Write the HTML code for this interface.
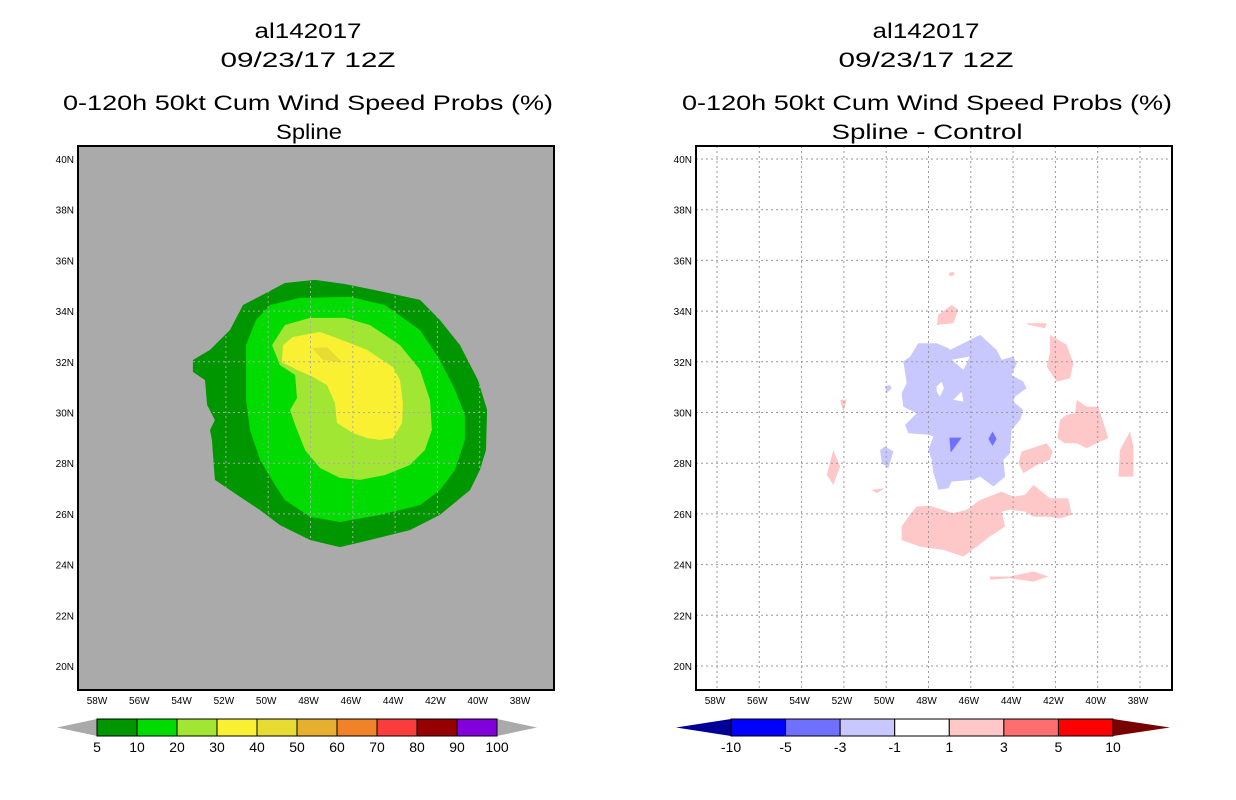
<!DOCTYPE html>
<html><head><meta charset="utf-8"><style>
html,body{margin:0;padding:0;background:#fff;width:1236px;height:800px;overflow:hidden}
svg text{font-family:"Liberation Sans",sans-serif}
</style></head><body>
<svg id="s" width="1236" height="800" xmlns="http://www.w3.org/2000/svg">
<g font-size="21" text-anchor="middle" lengthAdjust="spacingAndGlyphs">
<text x="308" y="38" textLength="107" lengthAdjust="spacingAndGlyphs">al142017</text><text x="308" y="67" textLength="175" lengthAdjust="spacingAndGlyphs">09/23/17 12Z</text>
<text x="308" y="110" textLength="490" lengthAdjust="spacingAndGlyphs">0-120h 50kt Cum Wind Speed Probs (%)</text><text x="309" y="139" textLength="66" lengthAdjust="spacingAndGlyphs">Spline</text></g>
<g font-size="21" text-anchor="middle">
<text x="926" y="38" textLength="107" lengthAdjust="spacingAndGlyphs">al142017</text><text x="926" y="67" textLength="175" lengthAdjust="spacingAndGlyphs">09/23/17 12Z</text>
<text x="927" y="110" textLength="490" lengthAdjust="spacingAndGlyphs">0-120h 50kt Cum Wind Speed Probs (%)</text><text x="927" y="139" textLength="191" lengthAdjust="spacingAndGlyphs">Spline - Control</text></g>
</svg>
<script>
const lonTicks=[58,56,54,52,50,48,46,44,42,40,38];
const latTicks=[40,38,36,34,32,30,28,26,24,22,20];
const leftLevels=["5","10","20","30","40","50","60","70","80","90","100"];
const leftColors=["#009600","#00dc00","#a0e632","#faf032","#e6dc32","#e6af2d","#f08228","#fa3c3c","#960000","#8200dc"];
const rightLevels=["-10","-5","-3","-1","1","3","5","10"];
const rightColors=["#0000ff","#7070ff","#c8c8ff","#ffffff","#ffc8c8","#ff6e6e","#ff0000"];
const c5=[[53.56,32.07],[52.75,32.47],[51.81,33.25],[51.19,34.24],[50.29,34.63],[49.21,35.11],[47.79,35.23],[46.37,35.07],[44.95,34.83],[42.82,34.44],[41.88,33.65],[40.93,32.66],[40.08,31.28],[39.65,30.1],[39.7,28.52],[39.99,27.73],[40.46,26.94],[41.88,25.96],[43.3,25.36],[45.19,24.97],[46.61,24.69],[48.02,24.97],[49.44,25.56],[50.39,26.15],[51.33,26.67],[52.52,27.34],[52.66,28.92],[52.75,29.31],[52.52,29.7],[52.89,30.3],[52.99,31.28],[53.56,31.6]];
const c10=[[51.05,32.66],[50.58,33.65],[49.91,34.24],[48.5,34.52],[46.13,34.56],[44.48,34.24],[42.82,33.25],[41.88,32.07],[41.17,30.89],[40.7,29.9],[40.7,28.92],[41.17,27.73],[41.88,26.94],[42.82,26.35],[44.71,25.96],[46.61,25.68],[48.02,25.88],[49.21,26.55],[49.68,27.14],[50.39,28.13],[50.86,29.31],[51.05,30.49]];
const c20=[[49.82,32.66],[49.21,33.45],[48.02,33.73],[46.37,33.73],[45.19,33.45],[43.77,32.66],[42.82,31.68],[42.35,30.49],[42.26,29.31],[42.59,28.52],[43.3,27.93],[44.48,27.53],[45.66,27.34],[46.61,27.42],[47.55,27.81],[48.26,28.52],[48.73,29.51],[48.97,30.1],[48.64,30.57],[48.73,31.48],[49.44,31.87]];
const c30=[[49.35,31.99],[49.3,32.66],[48.83,32.98],[47.55,33.18],[46.27,32.78],[45.33,32.47],[44.1,31.79],[43.77,31.28],[43.63,30.37],[43.67,29.59],[44.1,28.99],[44.71,28.92],[45.33,28.99],[45.99,29.19],[46.75,29.59],[46.84,30.37],[47.22,31.08],[47.88,31.4],[48.64,31.68]];
const c40=[[47.93,32.54],[47.22,32.58],[46.51,31.99],[47.41,32.07]];
const blueMain=[[48.48,32.73],[47.61,32.73],[47.06,32.54],[46.98,32.47],[45.56,33.06],[44.78,32.47],[44.54,32.08],[43.99,32.21],[43.83,31.94],[44.07,31.48],[43.52,31.22],[43.36,30.96],[43.91,30.63],[43.99,30.43],[43.52,30.1],[43.67,29.71],[44.07,29.31],[44.15,28.39],[44.46,28.13],[44.38,27.47],[44.93,27.08],[45.56,27.47],[45.88,27.34],[46.9,27.28],[47.06,27.01],[47.54,26.95],[47.61,27.21],[47.77,27.6],[47.85,28.13],[48.01,28.52],[47.77,29.05],[48.01,29.12],[48.95,29.18],[49.11,29.51],[48.56,29.97],[49.19,30.23],[49.27,30.76],[49.03,31.15],[49.19,32.01],[48.87,32.21]];
const blueSmall=[[[50.29,28.52],[50.06,28.66],[49.66,28.46],[49.9,27.8],[50.21,28.0]],[[50.06,31.02],[49.82,31.09],[49.74,30.96],[49.98,30.76]]];
const holes=[[[47.61,31.02],[47.38,31.22],[47.27,30.96],[47.46,30.63],[47.61,30.83]],[[46.83,30.5],[46.43,30.83],[46.35,30.43]],[[46.9,32.08],[46.04,32.21],[46.35,31.68]]];
const blueDark=[[[47.01,29.01],[46.43,29.01],[46.95,28.42]],[[44.97,29.25],[44.78,28.96],[44.97,28.68],[45.17,28.96]]];
const pinks=[
[[48.56,26.29],[47.93,26.32],[46.83,26.03],[46.2,26.16],[45.56,26.55],[44.54,26.88],[43.99,26.68],[43.44,26.75],[43.04,27.14],[42.26,26.62],[41.39,26.62],[41.23,25.96],[41.78,25.83],[42.41,25.89],[43.04,25.89],[43.44,26.09],[44.15,26.16],[44.54,26.09],[44.38,25.5],[45.09,25.11],[45.72,24.71],[46.35,24.32],[47.3,24.58],[48.4,24.71],[49.27,24.97],[49.27,25.5],[48.95,25.89]],
[[40.99,30.5],[40.52,30.23],[39.97,30.23],[39.5,28.99],[40.05,28.79],[40.52,28.59],[40.99,28.79],[41.55,28.79],[41.91,28.99],[41.78,29.71],[41.47,29.91],[41.07,29.97]],
[[38.47,29.25],[38.31,28.66],[38.31,27.47],[39.02,27.47],[38.95,28.52]],
[[42.26,33.06],[41.47,32.67],[41.15,31.94],[41.31,31.35],[41.94,31.22],[42.41,31.81],[42.26,32.34]],
[[43.6,28.46],[42.41,28.79],[42.13,28.46],[42.26,28.13],[42.89,27.93],[43.52,27.6],[43.75,28.0]],
[[47.54,33.85],[46.9,34.24],[46.59,34.05],[46.83,33.52],[47.61,33.45]],
[[43.36,33.52],[42.41,33.52],[42.49,33.32],[43.28,33.46]],
[[52.5,28.52],[52.18,27.87],[52.5,27.14],[52.81,27.54]],
[[52.18,30.5],[51.87,30.5],[52.03,30.04]],
[[50.69,26.95],[50.06,27.01],[50.45,26.82]],
[[45.09,23.53],[44.15,23.53],[43.04,23.73],[42.33,23.53],[43.04,23.33],[44.15,23.46],[45.09,23.4]],
[[47.06,35.49],[46.83,35.56],[46.75,35.43],[46.98,35.36]]];

const S=document.getElementById('s'),NS='http://www.w3.org/2000/svg';
function mk(t,a,p){const e=document.createElementNS(NS,t);for(const k in a)e.setAttribute(k,a[k]);(p||S).appendChild(e);return e;}
const TOP=146,BOT=690,W=476;
function xs(x0){return lon=>x0+21+(58-lon)*21.15;}
function ys(lat){return 159+(40-lat)*25.35;}
function pts(poly,X){return poly.map(p=>X(p[0]).toFixed(1)+','+ys(p[1]).toFixed(1)).join(' ');}
function panel(x0,bg,grid,name){
  const X=xs(x0);
  const g=mk('g',{});
  
  
  const clip=mk('clipPath',{id:'cp'+x0},g);mk('rect',{x:x0,y:TOP,width:W,height:BOT-TOP},clip);
  const r=mk('rect',{x:x0,y:TOP,width:W,height:BOT-TOP,fill:bg},g);
  
  
  const inner=mk('g',{'clip-path':'url(#cp'+x0+')'},g);
  return {X,g,inner,grid};
}
function finish(P,x0){
  const {X,g,inner,grid}=P;
  lonTicks.forEach(l=>{const l1=mk('line',{x1:X(l),x2:X(l),y1:TOP,y2:BOT,stroke:grid,'stroke-width':1,'stroke-dasharray':'2,3'},inner);
    
    
    const t=mk('text',{x:X(l)-2,y:704,'font-size':10,'text-anchor':'middle'},g);t.textContent=l+'W';
    
    });
  latTicks.forEach(l=>{const l1=mk('line',{x1:x0,x2:x0+W,y1:ys(l),y2:ys(l),stroke:grid,'stroke-width':1,'stroke-dasharray':'2,3'},inner);
    
    
    const t=mk('text',{x:x0-4,y:ys(l)+4,'font-size':10,'text-anchor':'end'},g);t.textContent=l+'N';
    
    });
  const f=mk('rect',{x:x0,y:TOP,width:W,height:BOT-TOP,fill:'none',stroke:'#000','stroke-width':2},g);
  
  
}
function poly(P,p,fill,name){const e=mk('polygon',{points:pts(p,P.X),fill:fill},P.inner);
  
  }
const L=panel(78,'#aaaaaa','#aaaaaa','left-map-panel');
poly(L,c5,leftColors[0],'contour-5');poly(L,c10,leftColors[1],'contour-10');poly(L,c20,leftColors[2],'contour-20');poly(L,c30,leftColors[3],'contour-30');poly(L,c40,leftColors[4],'contour-40');
finish(L,78);
const R=panel(696,'#ffffff','#999999','right-map-panel');
poly(R,blueMain,rightColors[2],'diff-neg-1-3');
blueSmall.forEach(p=>poly(R,p,rightColors[2],'diff-neg-small'));
holes.forEach(p=>poly(R,p,'#ffffff','diff-hole'));
blueDark.forEach(p=>poly(R,p,rightColors[1],'diff-neg-3-5'));
pinks.forEach(p=>poly(R,p,rightColors[4],'diff-pos-1-3'));
finish(R,696);
function colorbar(x0,x1,lt,rt,colors,labels,lcol,rcol,name){
  const g=mk('g',{});
  
  
  const y0=719,y1=736,ym=727.5,n=colors.length,w=(x1-x0)/n;
  const a=mk('polygon',{points:`${x0},${y0} ${lt},${ym} ${x0},${y1}`,fill:lcol},g);
  
  const b=mk('polygon',{points:`${x1},${y0} ${rt},${ym} ${x1},${y1}`,fill:rcol},g);
  
  colors.forEach((c,i)=>{const r=mk('rect',{x:x0+i*w,y:y0,width:w,height:y1-y0,fill:c,stroke:'#000','stroke-width':1},g);
    });
  labels.forEach((l,i)=>{const t=mk('text',{x:x0+i*w,y:752,'font-size':14,'text-anchor':'middle'},g);t.textContent=l;
    });
}
colorbar(97,497,57,537,leftColors,leftLevels,'#aaaaaa','#aaaaaa','left-colorbar');
colorbar(731,1113,676,1170,rightColors,rightLevels,'#000096','#780000','right-colorbar');
</script>
</body></html>
